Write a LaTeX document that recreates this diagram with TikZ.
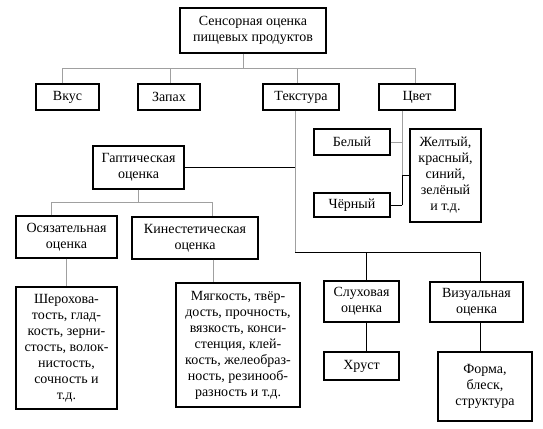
\documentclass[tikz,border=0pt]{standalone}
\usepackage{fontspec}
\setmainfont{Liberation Serif}
\definecolor{linegray}{RGB}{160,160,160}

\begin{document}
\begin{tikzpicture}[x=1pt, y=-1pt,
    box/.style={draw, line width=1.1pt, align=center, inner sep=0pt,
        font=\fontsize{14}{16}\selectfont},
    link/.style={draw=linegray, line width=1pt},
    blink/.style={draw=black, line width=1pt}]
    \useasboundingbox (0, 0) rectangle (543, 428);

    % top level
    \node[box, minimum width=146pt, minimum height=45pt] (top) at (253, 30.5)
        {Сенсорная оценка\\пищевых продуктов};
    \node[box, minimum width=63pt, minimum height=26pt] (vkus) at (67.5, 97) {Вкус};
    \node[box, minimum width=62pt, minimum height=26pt] (zapah) at (169, 97) {Запах};
    \node[box, minimum width=76pt, minimum height=26pt] (textura) at (301, 97) {Текстура};
    \node[box, minimum width=76pt, minimum height=26pt] (cvet) at (417, 97) {Цвет};

    % colour
    \node[box, minimum width=76pt, minimum height=26pt] (belyi) at (352, 142) {Белый};
    \node[box, minimum width=76pt, minimum height=24pt] (chernyi) at (352, 205) {Чёрный};
    \node[box, minimum width=71pt, minimum height=93pt] (zhelt) at (445.5, 175.5)
        {Желтый,\\красный,\\синий,\\зелёный\\и т.д.};

    % haptic
    \node[box, minimum width=91pt, minimum height=43pt] (gapt) at (138.5, 167.5)
        {Гаптическая\\оценка};
    \node[box, minimum width=101pt, minimum height=42pt] (osyaz) at (66.5, 237)
        {Осязательная\\оценка};
    \node[box, minimum width=126pt, minimum height=42pt] (kines) at (195, 238)
        {Кинестетическая\\оценка};
    \node[box, minimum width=101pt, minimum height=122pt] (sher) at (66.5, 348)
        {Шерохова-\\тость, глад-\\кость, зерни-\\стость, волок-\\нистость,\\сочность и\\т.д.};
    \node[box, minimum width=124pt, minimum height=124pt] (myag) at (238, 345)
        {Мягкость, твёр-\\дость, прочность,\\вязкость, конси-\\стенция, клей-\\кость, желеобраз-\\ность, резинооб-\\разность и т.д.};

    % hearing, vision
    \node[box, minimum width=75pt, minimum height=41pt] (sluh) at (361.5, 301.5)
        {Слуховая\\оценка};
    \node[box, minimum width=93pt, minimum height=40pt] (viz) at (476.5, 302)
        {Визуальная\\оценка};
    \node[box, minimum width=75pt, minimum height=28pt] (hrust) at (361.5, 366) {Хруст};
    \node[box, minimum width=94pt, minimum height=69pt] (forma) at (485, 386.5)
        {Форма,\\блеск,\\структура};

    % bus under the top box
    \coordinate (b0) at (243, 68);
    \coordinate (b1) at (62, 68);
    \coordinate (b2) at (170, 68);
    \coordinate (b3) at (297, 68);
    \coordinate (b4) at (415, 68);
    \draw[link] (b0 |- top.south) -- (b0);
    \draw[link] (b1 |- vkus.north) -- (b1) -- (b4) -- (b4 |- cvet.north);
    \draw[link] (b2) -- (b2 |- zapah.north);
    \draw[link] (b3) -- (b3 |- textura.north);

    % texture branch
    \coordinate (t1) at (295, 252);
    \coordinate (t2) at (366, 252);
    \coordinate (t3) at (480, 252);
    \draw[link] (t1 |- textura.south) -- (t1);
    \draw[blink] (gapt.east) -- (gapt.east -| t1);
    \draw[blink] (t1) -- (t3) -- (t3 |- viz.north);
    \draw[blink] (t2) -- (t2 |- sluh.north);
    \draw[blink] (t2 |- sluh.south) -- (t2 |- hrust.north);
    \draw[blink] (t3 |- viz.south) -- (t3 |- forma.north);

    % colour branch
    \coordinate (c1) at (402, 205);
    \draw[link] (c1 |- cvet.south) -- (c1 |- zhelt.west);
    \draw[link] (belyi.east) -- (belyi.east -| c1);
    \draw[blink] (c1 |- zhelt.west) -- (c1);
    \draw[blink] (c1) -- (chernyi.east);
    \draw[blink] (zhelt.west -| c1) -- (zhelt.west);

    % haptic branch
    \coordinate (g1) at (51, 202);
    \coordinate (g2) at (212, 202);
    \coordinate (k0) at (213, 283);
    \draw[link] (gapt.south) -- (gapt.south |- g1);
    \draw[link] (g1 |- osyaz.north) -- (g1) -- (g2) -- (g2 |- kines.north);
    \draw[link] (osyaz.south) -- (sher.north);
    \draw[link] (k0 |- kines.south) -- (k0 |- myag.north);

\end{tikzpicture}
\end{document}
